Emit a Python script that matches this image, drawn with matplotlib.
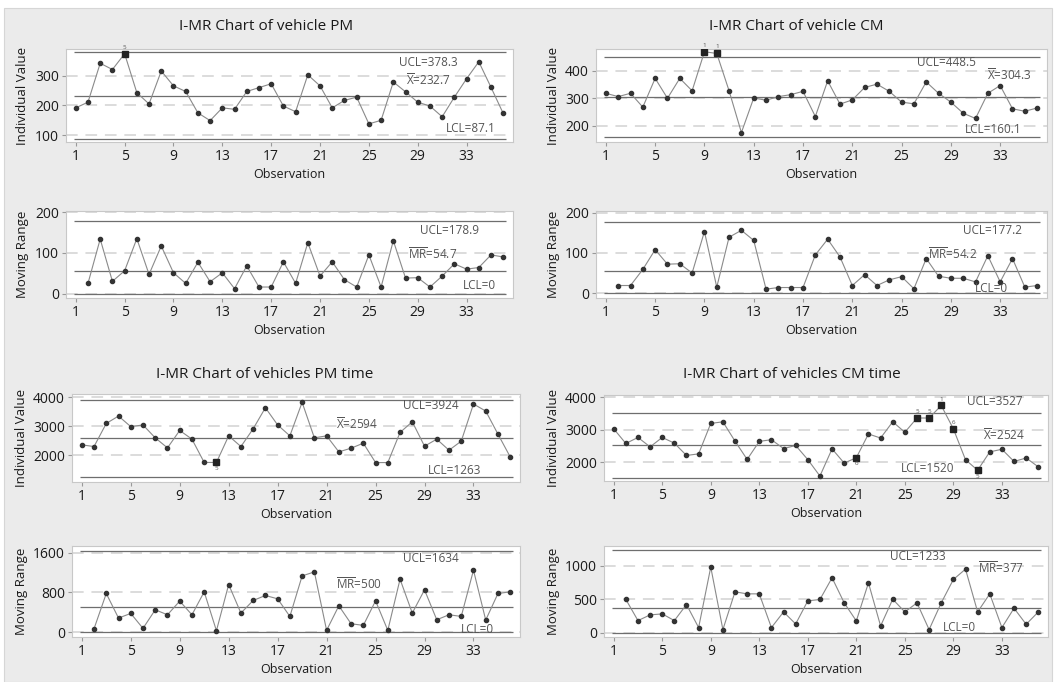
import matplotlib.pyplot as plt
from matplotlib.patches import Rectangle
import numpy as np

plt.rcParams['font.family'] = ['Open Sans', 'DejaVu Sans']
plt.rcParams['mathtext.fontset'] = 'custom'
plt.rcParams['mathtext.rm'] = 'Open Sans'

W, H = 1056, 682

obs = np.arange(1, 37)
mr_obs = np.arange(2, 37)
xtick_obs = [1, 5, 9, 13, 17, 21, 25, 29, 33]

# vehicle PM
pm_values = [192, 211, 342, 321, 374, 243, 205, 316, 266, 247, 175, 149,
             192, 187, 247, 260, 273, 198, 179, 303, 266, 192, 217, 228,
             138, 150, 279, 246, 211, 198, 162, 228, 290, 347, 261, 173]
pm_mr = [25, 134, 30, 56, 135, 47, 117, 51, 25, 77, 29, 51, 12, 68, 16, 16,
         78, 25, 125, 43, 78, 34, 16, 95, 16, 130, 38, 39, 16, 43, 73, 60,
         64, 95, 90]
pm_limits = (378.3, 232.7, 87.1)
pm_mr_limits = (178.9, 54.7, 0)
pm_flags = {5: '5'}

# vehicle CM
cm_values = [318, 306, 318, 268, 372, 300, 372, 327, 468, 462, 327, 176,
             301, 293, 306, 313, 325, 234, 363, 279, 294, 339, 351, 325,
             286, 280, 359, 318, 286, 246, 227, 318, 346, 262, 253, 265]
cm_mr = [19, 19, 59, 108, 72, 73, 50, 153, 15, 139, 156, 131, 10, 14, 14, 14,
         95, 134, 90, 19, 46, 19, 33, 41, 11, 86, 42, 37, 37, 28, 93, 28,
         86, 15, 19]
cm_limits = (448.5, 304.3, 160.1)
cm_mr_limits = (177.2, 54.2, 0)
cm_flags = {9: '1', 10: '1'}

# vehicles PM time
pmt_values = [2358, 2300, 3098, 3353, 2988, 3046, 2600, 2254, 2855, 2555,
              1750, 1750, 2670, 2300, 2913, 3640, 3046, 2670, 3827, 2600,
              2670, 2116, 2243, 2416, 1746, 1746, 2786, 3156, 2312, 2555,
              2173, 2486, 3769, 3526, 2728, 1942]
pmt_mr = [73, 780, 287, 380, 80, 453, 353, 627, 353, 813, 33, 960, 387, 640,
          740, 673, 320, 1133, 1213, 40, 533, 173, 140, 633, 40, 1067, 387,
          853, 253, 353, 320, 1247, 247, 780, 813]
pmt_limits = (3924, 2594, 1263)
pmt_mr_limits = (1634, 500, 0)
pmt_flags = {12: '5'}

# vehicles CM time
cmt_values = [3028, 2577, 2762, 2472, 2762, 2586, 2207, 2256, 3194, 3244,
              2648, 2085, 2640, 2693, 2420, 2514, 2080, 1573, 2410, 1971,
              2138, 2869, 2744, 3245, 2922, 3361, 3361, 3747, 3026, 2075,
              1752, 2317, 2398, 2022, 2129, 1856]
cmt_mr = [500, 184, 269, 284, 184, 423, 80, 980, 50, 612, 582, 582, 80, 313,
          134, 478, 498, 821, 448, 179, 746, 104, 502, 313, 448, 50, 448,
          796, 950, 313, 582, 80, 368, 129, 313]
cmt_limits = (3527, 2524, 1520)
cmt_mr_limits = (1233, 377, 0)
cmt_flags = {21: '6', 26: '5', 27: '5', 28: '1', 29: '6', 31: '5'}


def px_box(l, t, r, b):
    return [l / W, 1 - b / H, (r - l) / W, (b - t) / H]


def draw_chart(fig, box, x, y, limits, ylim, yticks, ylabel, text_pos,
               center_sym, flags=None):
    ax = fig.add_axes(px_box(*box))
    ax.set_facecolor('white')
    for s in ax.spines.values():
        s.set_color('#c8c8c8')
        s.set_linewidth(0.8)
    for t in yticks:
        ax.axhline(t, color='#dcdcdc', lw=1.4, ls=(0, (6, 4)), zorder=0)
    ucl, center, lcl = limits
    # control lines run from the first to the last observation
    ax.hlines(limits, 0.85, 36.2, color='#6e6e6e', lw=0.9, zorder=1)
    ax.plot(x, y, color='#8a8a8a', lw=0.8, zorder=2)
    flags = flags or {}
    normal = [i for i, xv in enumerate(x) if xv not in flags]
    ax.plot(np.asarray(x)[normal], np.asarray(y)[normal], 'o', ms=3.0,
            color='#333333', zorder=3)
    for xv, lab in flags.items():
        yv = y[list(x).index(xv)]
        ax.plot(xv, yv, 's', ms=3.8, color='#222222', zorder=3)
        span = ylim[1] - ylim[0]
        off = 0.07 * span if yv >= center else -0.07 * span
        ax.text(xv, yv + off, lab, fontsize=4.5, color='#555555',
                ha='center', va='center')
    labels = ['UCL=%g' % ucl, center_sym + '=%g' % center, 'LCL=%g' % lcl]
    for lab, (fx, fy) in zip(labels, text_pos):
        ax.text(fx, fy, lab, transform=ax.transAxes, fontsize=8.5,
                color='#555555', ha='center', va='center')
    ax.set_xlim(0.2, 36.8)
    ax.set_ylim(*ylim)
    ax.set_yticks(yticks)
    ax.set_xticks(xtick_obs)
    ax.tick_params(colors='#999999', length=3, width=0.8, labelsize=10,
                   labelcolor='#1a1a1a', pad=2)
    ax.set_ylabel(ylabel, fontsize=9.5, color='#1a1a1a', labelpad=4)
    ax.set_xlabel('Observation', fontsize=9, color='#1a1a1a', labelpad=3)
    return ax


xbar = r'$\overline{\mathrm{X}}$'
mrbar = r'$\overline{\mathrm{MR}}$'

fig = plt.figure(figsize=(W / 100, H / 100), dpi=100)
fig.patch.set_facecolor('white')
fig.patches.append(Rectangle((4 / W, 0), 1048 / W, 674 / H,
                             transform=fig.transFigure, facecolor='#ebebeb',
                             edgecolor='#d6d6d6', lw=0.8, zorder=-10))

title_kw = dict(fontsize=11, ha='center', va='center', color='#1a1a1a')

# top-left: vehicle PM
fig.text(266 / W, 1 - 27 / H, 'I-MR Chart of vehicle PM', **title_kw)
draw_chart(fig, (66, 49, 513, 142), obs, pm_values, pm_limits, (77, 390),
           [100, 200, 300], 'Individual Value',
           [(0.81, 0.86), (0.81, 0.67), (0.905, 0.15)], xbar, pm_flags)
draw_chart(fig, (66, 211, 513, 298), mr_obs, pm_mr, pm_mr_limits, (-11, 203),
           [0, 100, 200], 'Moving Range',
           [(0.857, 0.78), (0.82, 0.51), (0.926, 0.14)], mrbar)

# top-right: vehicle CM
fig.text(796 / W, 1 - 27 / H, 'I-MR Chart of vehicle CM', **title_kw)
draw_chart(fig, (596, 49, 1047, 142), obs, cm_values, cm_limits, (142, 478),
           [200, 300, 400], 'Individual Value',
           [(0.778, 0.85), (0.916, 0.72), (0.88, 0.13)], xbar, cm_flags)
draw_chart(fig, (596, 211, 1047, 298), mr_obs, cm_mr, cm_mr_limits, (-12, 204),
           [0, 100, 200], 'Moving Range',
           [(0.88, 0.78), (0.79, 0.51), (0.876, 0.11)], mrbar)

# bottom-left: vehicles PM time
fig.text(265 / W, 1 - 375 / H, 'I-MR Chart of vehicles PM time', **title_kw)
draw_chart(fig, (72, 394, 520, 482), obs, pmt_values, pmt_limits, (1075, 4115),
           [2000, 3000, 4000], 'Individual Value',
           [(0.80, 0.875), (0.636, 0.66), (0.855, 0.125)], xbar, pmt_flags)
draw_chart(fig, (72, 546, 520, 637), mr_obs, pmt_mr, pmt_mr_limits, (-93, 1733),
           [0, 800, 1600], 'Moving Range',
           [(0.80, 0.86), (0.64, 0.58), (0.904, 0.08)], mrbar)

# bottom-right: vehicles CM time
fig.text(792 / W, 1 - 375 / H, 'I-MR Chart of vehicles CM time', **title_kw)
draw_chart(fig, (604, 395, 1048, 481), obs, cmt_values, cmt_limits, (1420, 4070),
           [2000, 3000, 4000], 'Individual Value',
           [(0.88, 0.92), (0.90, 0.54), (0.73, 0.15)], xbar, cmt_flags)
draw_chart(fig, (604, 546, 1048, 637), mr_obs, cmt_mr, cmt_mr_limits, (-60, 1294),
           [0, 500, 1000], 'Moving Range',
           [(0.707, 0.88), (0.894, 0.76), (0.80, 0.10)], mrbar)

fig.savefig('out.png', dpi=100, facecolor=fig.get_facecolor())
